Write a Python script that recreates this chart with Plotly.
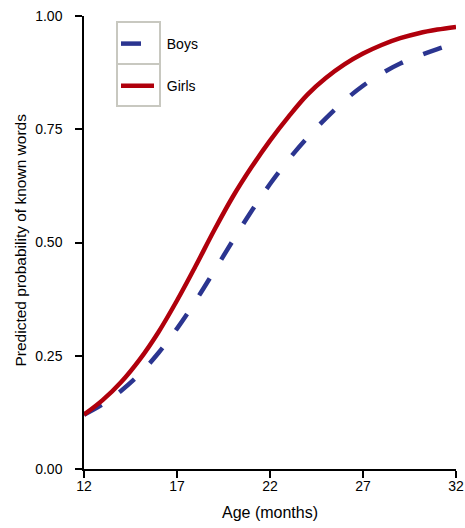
import plotly.graph_objects as go

ages = list(range(12, 33))
girls = [0.120, 0.152, 0.192, 0.242, 0.302, 0.372, 0.448, 0.527, 0.601, 0.666, 0.725,
         0.778, 0.826, 0.863, 0.893, 0.917, 0.936, 0.951, 0.962, 0.970, 0.976]
boys = [0.120, 0.143, 0.173, 0.210, 0.256, 0.310, 0.371, 0.437, 0.504, 0.569, 0.629,
        0.683, 0.731, 0.774, 0.813, 0.846, 0.873, 0.895, 0.912, 0.927, 0.940]
x_ticks = [12, 17, 22, 27, 32]
y_ticks = [0.0, 0.25, 0.5, 0.75, 1.0]
y_tick_text = ["0.00", "0.25", "0.50", "0.75", "1.00"]

FONT = "Liberation Sans, Arial, Helvetica, sans-serif"
W, H = 465, 528
L, R, T, B = 84, 9, 16, 59
PW, PH = W - L - R, H - T - B

def px(xp):
    return (xp - L) / PW

def py(yp):
    return (H - B - yp) / PH

fig = go.Figure()
fig.add_trace(go.Scatter(x=ages, y=boys, mode="lines", name="\u00a0\u00a0Boys",
                         line=dict(color="#2b3590", width=4.5, dash="20px,22px", shape="spline"),
                         legendgroup="b"))
fig.add_trace(go.Scatter(x=ages, y=girls, mode="lines", name="\u00a0\u00a0Girls",
                         line=dict(color="#b0000c", width=4.5, shape="spline"),
                         legendgroup="g"))

axis_common = dict(showline=True, linecolor="black", linewidth=1.5, ticks="outside",
                   ticklen=7, tickwidth=1.5, tickcolor="black", showgrid=False,
                   zeroline=False, automargin=False,
                   tickfont=dict(family=FONT, size=14, color="black"))

fig.update_xaxes(range=[12, 32], tickvals=x_ticks, ticklabelstandoff=-4, **axis_common,
                 title=dict(text="Age (months)", font=dict(family=FONT, size=16, color="black"),
                            standoff=14))
fig.update_yaxes(range=[0, 1], tickvals=y_ticks, ticktext=y_tick_text, ticklabelstandoff=10,
                 **axis_common)

fig.add_annotation(text="Predicted probability of known words", textangle=-90,
                   xref="paper", yref="paper", x=px(19.5), y=py(240),
                   xanchor="center", yanchor="middle", showarrow=False,
                   font=dict(family=FONT, size=15.5, color="black"))

box_col = "#c8c8c0"
for y0, y1 in [(22, 64), (64, 106)]:
    fig.add_shape(type="rect", xref="paper", yref="paper",
                  x0=px(117), x1=px(160), y0=py(y1), y1=py(y0),
                  line=dict(color=box_col, width=2), fillcolor="rgba(0,0,0,0)", layer="below")

fig.update_layout(
    width=W, height=H,
    margin=dict(l=L, r=R, t=T, b=B),
    paper_bgcolor="white", plot_bgcolor="white",
    font=dict(family=FONT, color="black"),
    showlegend=True,
    legend=dict(x=px(116), y=py(28), xanchor="left", yanchor="top",
                bgcolor="rgba(0,0,0,0)", borderwidth=0, tracegroupgap=21,
                itemwidth=33, font=dict(family=FONT, size=14, color="black")),
)

fig.write_html("out.html")
